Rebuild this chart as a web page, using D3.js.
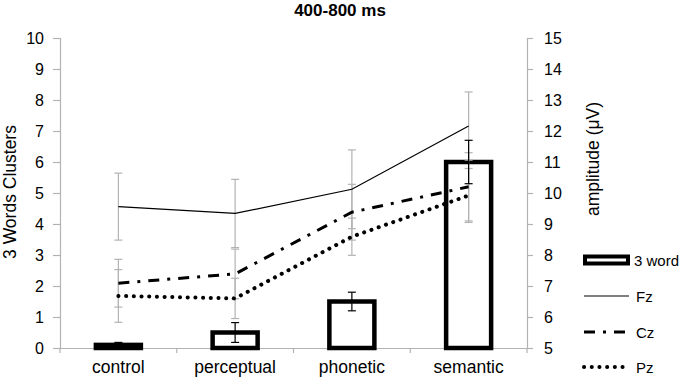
<!DOCTYPE html>
<html lang="en">
  <head>
    <meta charset="utf-8">
    <title>400-800 ms</title>
    <script src="https://cdn.jsdelivr.net/npm/d3@7"></script>
    <style>
      body { margin: 0; background: #fff; }
      text { font-family: "Liberation Sans", Arial, sans-serif; }
    </style>
  </head>
  <body>
    <script>
      var w = 680;
      var h = 381;

      // data
      var categories = ["control", "perceptual", "phonetic", "semantic"];
      var clusters = [0.1, 0.5, 1.5, 6.0];
      var clustersErr = [0.08, 0.32, 0.3, 0.7];
      var fz = [9.56, 9.34, 10.12, 12.16];
      var fzErr = [1.08, 1.1, 1.27, 1.1];
      var cz = [7.09, 7.39, 9.38, 10.2];
      var czErr = [0.77, 0.8, 0.9, 1.1];
      var pz = [6.68, 6.6, 8.59, 9.92];
      var pzErr = [0.85, 0.65, 0.6, 0.87];
      var leftTicks = [0, 1, 2, 3, 4, 5, 6, 7, 8, 9, 10];
      var rightTicks = [5, 6, 7, 8, 9, 10, 11, 12, 13, 14, 15];

      var plotLeft = 60, plotRight = 527, plotTop = 38, plotBottom = 348;

      var xScale = d3.scaleBand().domain(categories).range([plotLeft, plotRight]);
      var yLeft = d3.scaleLinear().domain([0, 10]).range([plotBottom, plotTop]);
      var yRight = d3.scaleLinear().domain([5, 15]).range([plotBottom, plotTop]);

      var svg = d3.select("body").append("svg")
                  .attr("width", w)
                  .attr("height", h);

      var grey = "#b3b3b3";

      // axes
      var gl = svg.append("g").attr("transform", "translate(" + plotLeft + ",0)")
                  .call(d3.axisLeft(yLeft).tickValues(leftTicks).tickSize(7).tickPadding(9));
      var gr = svg.append("g").attr("transform", "translate(" + plotRight + ",0)")
                  .call(d3.axisRight(yRight).tickValues(rightTicks).tickSize(6).tickPadding(11));
      var gx = svg.append("g").attr("transform", "translate(0," + plotBottom + ")")
                  .call(d3.axisBottom(xScale).tickSize(0).tickPadding(13));

      [gl, gr, gx].forEach(function(g) {
        g.select(".domain").attr("stroke", grey).attr("stroke-width", 1.2);
        g.selectAll(".tick line").attr("stroke", grey).attr("stroke-width", 1.2);
        g.selectAll("text").attr("font-size", "16px").attr("fill", "#000")
          .attr("font-family", "'Liberation Sans', Arial, sans-serif");
      });
      gx.selectAll("text").attr("font-size", "17.5px");

      // category separator ticks on x axis
      var bounds = [0, 1, 2, 3, 4];
      svg.selectAll(".xsep").data(bounds).enter().append("line")
         .attr("x1", function(d) { return plotLeft + d * xScale.step(); })
         .attr("x2", function(d) { return plotLeft + d * xScale.step(); })
         .attr("y1", plotBottom).attr("y2", plotBottom + 5)
         .attr("stroke", grey).attr("stroke-width", 1.2);

      var cx = function(i) { return xScale(categories[i]) + xScale.bandwidth() / 2; };

      // bars
      var barW = 45;
      svg.selectAll(".bar").data(clusters).enter().append("rect")
         .attr("x", function(d, i) { return cx(i) - barW / 2; })
         .attr("y", function(d) { return yLeft(d); })
         .attr("width", barW)
         .attr("height", function(d) { return plotBottom - yLeft(d); })
         .attr("fill", "#fff")
         .attr("stroke", "#000")
         .attr("stroke-width", 4.5);

      function errBars(vals, errs, scale, color) {
        var g = svg.append("g").attr("stroke", color).attr("stroke-width", 1.2);
        vals.forEach(function(v, i) {
          var x = cx(i), y1 = scale(v + errs[i]), y2 = scale(v - errs[i]);
          g.append("line").attr("x1", x).attr("x2", x).attr("y1", y1).attr("y2", y2);
          g.append("line").attr("x1", x - 4).attr("x2", x + 4).attr("y1", y1).attr("y2", y1);
          g.append("line").attr("x1", x - 4).attr("x2", x + 4).attr("y1", y2).attr("y2", y2);
        });
      }

      errBars(fz, fzErr, yRight, grey);
      errBars(cz, czErr, yRight, grey);
      errBars(pz, pzErr, yRight, grey);

      var line = d3.line()
                   .x(function(d, i) { return cx(i); })
                   .y(function(d) { return yRight(d); });

      var styles = {
        fz: { width: 1.2, dash: null, cap: "butt" },
        cz: { width: 3, dash: "11,8,3,8", cap: "butt" },
        pz: { width: 4, dash: "0.1,7.6", cap: "round" }
      };

      [["fz", fz], ["cz", cz], ["pz", pz]].forEach(function(s) {
        var st = styles[s[0]];
        svg.append("path").datum(s[1])
           .attr("d", line)
           .attr("fill", "none")
           .attr("stroke", "#000")
           .attr("stroke-width", st.width)
           .attr("stroke-dasharray", st.dash)
           .attr("stroke-linecap", st.cap);
      });

      errBars(clusters, clustersErr, yLeft, "#000");

      // titles
      svg.append("text").attr("x", 340).attr("y", 16)
         .attr("text-anchor", "middle").attr("font-size", "17px").attr("font-weight", "bold")
         .text("400-800 ms");

      svg.append("text")
         .attr("transform", "translate(16,192) rotate(-90)")
         .attr("text-anchor", "middle").attr("font-size", "17.5px")
         .text("3 Words Clusters");

      svg.append("text")
         .attr("transform", "translate(599,159) rotate(-90)")
         .attr("text-anchor", "middle").attr("font-size", "17.5px")
         .text("amplitude (\u03bcV)");

      // legend
      var legendNames = ["3 word", "Fz", "Cz", "Pz"];
      var legendY = [260, 296, 332, 367];
      var lg = svg.append("g");
      lg.append("rect").attr("x", 585).attr("y", legendY[0] - 3.5).attr("width", 43).attr("height", 7)
        .attr("fill", "#fff").attr("stroke", "#000").attr("stroke-width", 4);
      ["fz", "cz", "pz"].forEach(function(k, i) {
        var st = styles[k];
        lg.append("line").attr("x1", 584).attr("x2", 629)
          .attr("y1", legendY[i + 1]).attr("y2", legendY[i + 1])
          .attr("stroke", "#000").attr("stroke-width", st.width)
          .attr("stroke-dasharray", st.dash).attr("stroke-linecap", st.cap);
      });
      lg.selectAll("text").data(legendNames).enter().append("text")
        .attr("x", function(d, i) { return i === 0 ? 634 : 636; })
        .attr("y", function(d, i) { return legendY[i] + 5.5; })
        .attr("font-size", "15px")
        .text(function(d) { return d; });
    </script>
  </body>
</html>
